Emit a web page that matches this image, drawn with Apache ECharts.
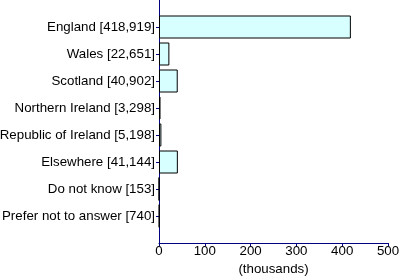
<!DOCTYPE html>
<html><head><meta charset="utf-8">
<script src="https://cdn.jsdelivr.net/npm/echarts@6/dist/echarts.min.js"></script>
<style>html,body{margin:0;padding:0;background:#fff}#c{width:400px;height:276px}</style>
</head><body><div id="c"></div>
<script>
const categories = ['England [418,919]','Wales [22,651]','Scotland [40,902]','Northern Ireland [3,298]','Republic of Ireland [5,198]','Elsewhere [41,144]','Do not know [153]','Prefer not to answer [740]'];
const values = [418.919, 22.651, 40.902, 3.298, 5.198, 41.144, 0.153, 0.740];
const xTicks = [0, 100, 200, 300, 400, 500];

const cats = [''].concat(categories, ['']);
const data = ['-'].concat(values, ['-']);
const chart = echarts.init(document.getElementById('c'), null, {renderer: 'canvas'});
chart.setOption({
  animation: false,
  grid: {left: 159, top: 0, right: 12, bottom: 33, containLabel: false, outerBoundsMode: 'none'},
  xAxis: {
    type: 'value', min: xTicks[0], max: xTicks[xTicks.length - 1], interval: 100,
    name: '(thousands)', nameLocation: 'middle', nameGap: 20,
    nameTextStyle: {color: '#000', fontFamily: 'Liberation Sans', fontSize: 13.3},
    axisLine: {show: true, lineStyle: {color: '#000080', width: 1}},
    axisTick: {show: true, length: 3, lineStyle: {color: '#000080'}},
    axisLabel: {color: '#000', fontFamily: 'Liberation Sans', fontSize: 13.3, margin: 2},
    splitLine: {show: false}
  },
  yAxis: {
    type: 'category', data: cats, inverse: true, boundaryGap: false,
    axisLine: {show: true, lineStyle: {color: '#000080', width: 1}},
    axisTick: {show: true, length: 3, lineStyle: {color: '#000080'}, interval: (i, v) => v !== ''},
    axisLabel: {color: '#000', fontFamily: 'Liberation Sans', fontSize: 13.3, margin: 4, interval: 0},
    splitLine: {show: false}
  },
  series: [{
    type: 'bar', data: data, barWidth: 23,
    itemStyle: {color: '#d8ffff', borderColor: '#000', borderWidth: 1}
  }]
});
</script></body></html>
